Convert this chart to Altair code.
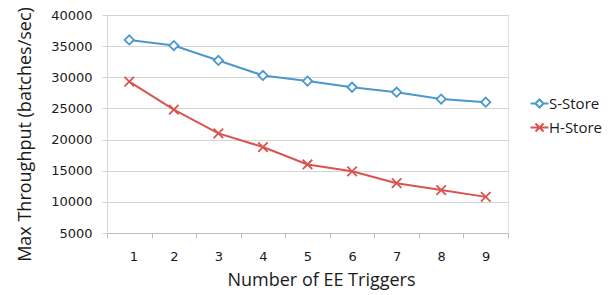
import altair as alt
import pandas as pd

triggers = [1, 2, 3, 4, 5, 6, 7, 8, 9]
s_store = [36000, 35100, 32700, 30300, 29400, 28400, 27600, 26500, 26000]
h_store = [29300, 24800, 21000, 18800, 16000, 14900, 13000, 11900, 10800]
series_names = ["S-Store", "H-Store"]
series_colors = ["#4a98cc", "#d9534f"]
y_ticks = [5000, 10000, 15000, 20000, 25000, 30000, 35000, 40000]
x_edges = [t - 0.5 for t in triggers] + [triggers[-1] + 0.5]

rows = []
for t, s, h in zip(triggers, s_store, h_store):
    rows.append({"triggers": t, "value": s, "series": "S-Store"})
    rows.append({"triggers": t, "value": h, "series": "H-Store"})
df = pd.DataFrame(rows)

W, H = 401, 218
xscale = alt.Scale(domain=[x_edges[0], x_edges[-1]], nice=False, zero=False)
yscale = alt.Scale(domain=[5000, 40000], nice=False, zero=False)

x_axis = alt.Axis(
    values=x_edges,
    labelExpr="datum.value < 9 ? format(datum.value + 0.5, 'd') : ''",
    labelOffset=W / 9 / 2,
    grid=False,
    tickSize=5,
    tickColor="#bfbfbf",
    domainColor="#bfbfbf",
    labelFont="DejaVu Sans",
    labelFontSize=13,
    labelColor="#1a1a1a",
    labelPadding=12,
    title="Number of EE Triggers",
    titleFont="Open Sans",
    titleFontSize=18,
    titleFontWeight="normal",
    titleColor="#1a1a1a",
    titleX=214,
    titleY=38,
)
y_axis = alt.Axis(
    values=y_ticks,
    format="d",
    grid=True,
    gridColor="#d4d4d4",
    tickColor="#d4d4d4",
    domainColor="#d4d4d4",
    tickSize=5,
    domain=True,
    labelFont="DejaVu Sans",
    labelFontSize=13,
    labelColor="#1a1a1a",
    labelPadding=10,
    title="Max Throughput (batches/sec)",
    titleFont="Open Sans",
    titleFontSize=18,
    titleFontWeight="normal",
    titleColor="#1a1a1a",
    titleX=-73,
    titleY=119,
)

base = alt.Chart(df)
x_enc = alt.X("triggers:Q", scale=xscale, axis=x_axis)
y_enc = alt.Y("value:Q", scale=yscale, axis=y_axis)

s_data = base.transform_filter(alt.datum.series == "S-Store")
h_data = base.transform_filter(alt.datum.series == "H-Store")

s_line = s_data.mark_line(strokeWidth=2, color=series_colors[0]).encode(x=x_enc, y=y_enc)
h_line = h_data.mark_line(strokeWidth=2, color=series_colors[1]).encode(x=x_enc, y=y_enc)

s_pts = s_data.mark_point(
    shape="diamond", filled=True, fill="white", stroke=series_colors[0],
    strokeWidth=1.8, size=85, opacity=1,
).encode(x=x_enc, y=y_enc)

h_pts = h_data.mark_point(
    shape="M-1,-1L1,1M-1,1L1,-1", filled=False, stroke=series_colors[1],
    strokeWidth=1.8, size=90, opacity=1,
).encode(x=x_enc, y=y_enc)

legend_paths = [
    "M-1.8,0L-0.8,0M0.8,0L1.8,0M0,-0.8L0.8,0L0,0.8L-0.8,0Z",
    "M-1.8,0L1.8,0M-0.8,-0.8L0.8,0.8M-0.8,0.8L0.8,-0.8",
]
leg = alt.Legend(
    title=None, orient="none", legendX=425, legendY=81,
    labelFont="Open Sans", labelFontSize=15, labelColor="#1a1a1a",
    symbolSize=100, symbolStrokeWidth=2, rowPadding=7, labelOffset=2,
    padding=0,
)
legend_layer = base.transform_filter("false").mark_point(
    filled=False, strokeWidth=2, opacity=1,
).encode(
    color=alt.Color("series:N", scale=alt.Scale(domain=series_names, range=series_colors), legend=leg),
    shape=alt.Shape("series:N", scale=alt.Scale(domain=series_names, range=legend_paths), legend=leg),
)

chart = alt.layer(s_line, h_line, s_pts, h_pts, legend_layer).properties(
    width=W, height=H,
    autosize=alt.AutoSizeParams(type="none"),
    padding={"left": 99, "top": 7, "right": 97, "bottom": 64},
).configure_view(stroke=None).configure(background="white")

chart.save("out.html", embed_options={"renderer": "svg", "actions": False})
